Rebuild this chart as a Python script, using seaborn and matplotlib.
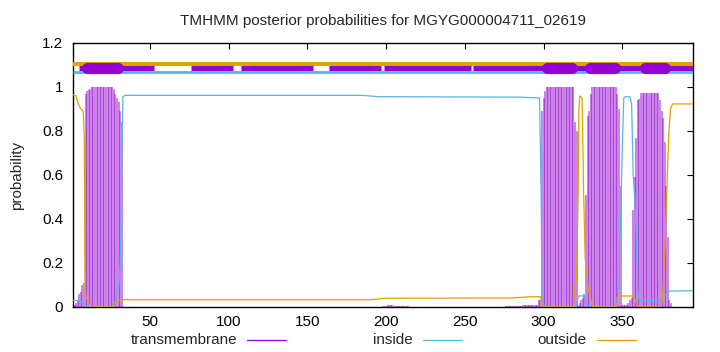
import matplotlib
matplotlib.use("Agg")
import matplotlib.pyplot as plt
import seaborn as sns
from matplotlib.lines import Line2D

# ---------------- data ----------------
title = "TMHMM posterior probabilities for MGYG000004711_02619"
seq_start = 1
seq_end = 395

x_ticks = [50, 100, 150, 200, 250, 300, 350]
y_ticks = [0, 0.2, 0.4, 0.6, 0.8, 1.0, 1.2]
y_tick_labels = ["0", "0.2", "0.4", "0.6", "0.8", "1", "1.2"]

legend_labels = ["transmembrane", "inside", "outside"]

# inside probability (read at key residues)
inside_pos = [1, 5, 7, 9, 10, 26, 28, 30, 31, 32, 32.7, 34, 185, 195, 285, 297.5,
              298.5, 299, 300, 301, 321, 322, 326, 327.5, 346, 348, 349, 350, 351,
              352, 355, 356, 357, 358, 359, 360, 361, 375, 377, 379, 395]
inside_prob = [0.03, 0.03, 0.02, 0.005, 0.0, 0.0, 0.03, 0.08, 0.2, 0.6, 0.955, 0.962,
               0.962, 0.956, 0.954, 0.95, 0.5, 0.06, 0.01, 0.0, 0.0, 0.05, 0.05, 0.0,
               0.0, 0.1, 0.4, 0.7, 0.95, 0.956, 0.955, 0.92, 0.6, 0.5, 0.3, 0.06, 0.03,
               0.03, 0.05, 0.072, 0.074]

# outside probability (read at key residues)
outside_pos = [1, 3, 4, 6, 7.5, 8.2, 8.6, 10.3, 11.8, 27, 29.5, 33, 190, 200, 280,
               290, 298, 300, 319, 320, 321, 322, 322.5, 323, 324.5, 325.5, 326.5,
               328.5, 330, 331, 346, 348, 357, 359, 360, 375, 376, 377.2, 378.6,
               379.7, 380.7, 382, 395]
outside_prob = [0.965, 0.96, 0.93, 0.9, 0.89, 0.77, 0.06, 0.03, 0.0, 0.0, 0.03, 0.033,
                0.033, 0.04, 0.041, 0.046, 0.047, 0.0, 0.0, 0.1, 0.12, 0.5, 0.9, 0.96,
                0.95, 0.52, 0.22, 0.08, 0.04, 0.0, 0.0, 0.05, 0.05, 0.02, 0.0, 0.0,
                0.09, 0.27, 0.58, 0.8, 0.9, 0.923, 0.923]

# transmembrane posterior per residue (impulses), in runs starting at given residue
tm1_start = 1
tm1_prob = [0.0, 0.01, 0.02, 0.03, 0.06, 0.07, 0.10, 0.11, 0.97, 0.98, 0.985, 0.99,
            1.0, 1.0, 1.0, 1.0, 1.0, 1.0, 1.0, 1.0, 1.0, 1.0, 1.0, 1.0, 1.0, 1.0,
            0.99, 0.97, 0.95, 0.93, 0.89, 0.84]
mid_start = 198
mid_prob = [0.004, 0.006, 0.006, 0.007, 0.007, 0.007, 0.007, 0.006, 0.006, 0.006,
            0.005, 0.005, 0.005, 0.004, 0.004, 0.003, 0.003]
pre2_start = 276
pre2_prob = [0.003, 0.003, 0.004, 0.004, 0.004, 0.005, 0.005, 0.005, 0.006, 0.006,
             0.006, 0.007, 0.007, 0.008, 0.008, 0.009, 0.009, 0.01, 0.01, 0.01]
tm2_start = 296
tm2_prob = [0.01, 0.03, 0.03, 0.89, 0.95, 0.98,
            1.0, 1.0, 1.0, 1.0, 1.0, 1.0, 1.0, 1.0, 1.0, 1.0, 1.0, 1.0, 1.0, 1.0,
            1.0, 1.0, 1.0, 1.0, 0.84, 0.80]
tm3_start = 322
tm3_prob = [0.01, 0.02, 0.03, 0.04, 0.06, 0.51, 0.87, 0.89, 0.97,
            1.0, 1.0, 1.0, 1.0, 1.0, 1.0, 1.0, 1.0, 1.0, 1.0, 1.0, 1.0, 1.0, 1.0,
            1.0, 1.0, 0.97, 0.90, 0.55,
            0.01, 0.01, 0.01, 0.01, 0.02, 0.03, 0.04]
tm4_start = 357
tm4_prob = [0.44, 0.59, 0.77, 0.94, 0.945,
            0.972, 0.972, 0.972, 0.972, 0.972, 0.972, 0.972, 0.972, 0.972, 0.972,
            0.972, 0.972,
            0.94, 0.89, 0.86, 0.75, 0.55, 0.32, 0.03, 0.02]

# predicted topology bands at the top (segment start / end residues)
outside_band = [(1, 395)]
inside_band = [(1, 395)]
tm_thin_band = [(4.5, 52.7), (75.7, 102.7), (107.5, 153.2), (163.4, 196.5),
                (198.6, 254), (255, 395)]
tm_blocks = [(7, 32.6), (299.4, 321.3), (326.6, 348.5), (361.5, 380.3)]

band_levels = {"outside": 1.106, "tm": 1.085, "inside": 1.068}

# ---------------- style ----------------
purple = "#9400d3"
cyan = "#56b4e9"
orange = "#e69f00"

sns.set_theme(style="white")
plt.rcParams["font.family"] = ["Liberation Sans", "DejaVu Sans"]
plt.rcParams["font.size"] = 11

fig = plt.figure(figsize=(7.2, 3.52), dpi=100)
ax = fig.add_axes([73 / 720, 45 / 352, 620 / 720, 264 / 352])

# impulses for the transmembrane probability
for start, vals in [(tm1_start, tm1_prob), (mid_start, mid_prob), (pre2_start, pre2_prob),
                    (tm2_start, tm2_prob), (tm3_start, tm3_prob), (tm4_start, tm4_prob)]:
    xs = list(range(start, start + len(vals)))
    ax.vlines(xs, 0, vals, color=purple, lw=1.15, alpha=0.6, zorder=1)

sns.lineplot(x=inside_pos, y=inside_prob, ax=ax, color=cyan, lw=0.9,
             estimator=None, sort=False, zorder=3)
sns.lineplot(x=outside_pos, y=outside_prob, ax=ax, color=orange, lw=0.9,
             estimator=None, sort=False, zorder=3)

# topology bands
for a, b in outside_band:
    ax.hlines(band_levels["outside"], a, b, color=orange, lw=2.9, zorder=4)
for a, b in inside_band:
    ax.hlines(band_levels["inside"], a, b, color=cyan, lw=2.0, zorder=4)
for a, b in tm_thin_band:
    ax.hlines(band_levels["tm"], a, b, color=purple, lw=3.6, zorder=5)
cap = 3.0  # round caps extend beyond segment ends (in residues at this scale)
for a, b in tm_blocks:
    ax.plot([a + cap, b - cap], [band_levels["tm"], band_levels["tm"]], color=purple,
            lw=8.0, solid_capstyle="round", zorder=6)

ax.set_xlim(seq_start, seq_end)
ax.set_ylim(0, 1.2)
ax.set_xticks(x_ticks)
ax.set_xticklabels([str(t) for t in x_ticks])
ax.set_yticks(y_ticks)
ax.set_yticklabels(y_tick_labels)
ax.set_xlabel("")
ax.set_ylabel("")
ax.tick_params(axis="both", direction="in", length=4, width=0.8, color="black",
               top=True, right=True, labelsize=11, labelcolor="black")
ax.tick_params(axis="x", pad=6)
ax.tick_params(axis="y", pad=7)
for s in ax.spines.values():
    s.set_visible(True)
    s.set_color("black")
    s.set_linewidth(1.0)
ax.grid(False)
if ax.get_legend() is not None:
    ax.get_legend().remove()

fig.text(383 / 720, 1 - 21 / 352, title, ha="center", va="center", fontsize=11)
fig.text(17 / 720, 1 - 175 / 352, "probability", ha="center", va="center",
         rotation=90, fontsize=11)

# legend (gnuplot style: label then sample line)
legend_text_right = [237, 413, 587]
legend_line_span = [(247, 286), (423, 462), (597, 636)]
legend_colors = [purple, cyan, orange]
ly = 1 - 340 / 352
for lab, tx, (l0, l1), c in zip(legend_labels, legend_text_right, legend_line_span, legend_colors):
    fig.text(tx / 720, ly, lab, ha="right", va="center", fontsize=11)
    fig.add_artist(Line2D([l0 / 720, l1 / 720], [ly, ly], color=c, lw=0.9,
                          transform=fig.transFigure))

fig.savefig("out.png", dpi=100)
